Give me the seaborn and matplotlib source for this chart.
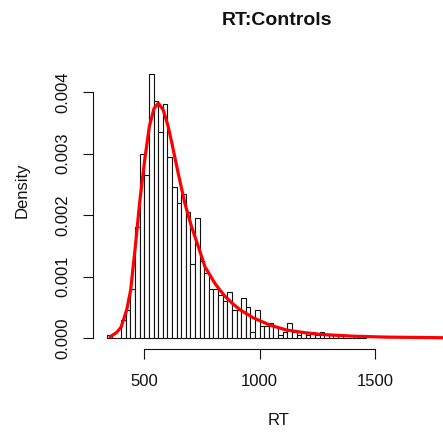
import numpy as np
import matplotlib
matplotlib.use('Agg')
import matplotlib.pyplot as plt
import seaborn as sns

# histogram bins (left edges, width 20) and densities
bin_left = [340, 360, 380, 400, 420, 440, 460, 480, 500, 520, 540, 560, 580, 600,
            620, 640, 660, 680, 700, 720, 740, 760, 780, 800, 820, 840, 860, 880,
            900, 920, 940, 960, 980, 1000, 1020, 1040, 1060, 1080, 1100, 1120, 1140,
            1160, 1180, 1200, 1220, 1240, 1260, 1280, 1300, 1320, 1340, 1360, 1380,
            1400, 1420, 1440]
densidade = [0.00005, 0, 0, 0.0003, 0.00045, 0.0008, 0.0018, 0.003, 0.00265, 0.0043,
             0.00385, 0.00335, 0.0038, 0.00295, 0.00245, 0.0022, 0.00235, 0.00205,
             0.0012, 0.00195, 0.00125, 0.00105, 0.0008, 0.0008, 0.0007, 0.0006,
             0.00075, 0.00045, 0.00045, 0.00065, 0.0005, 0.0001, 0.00045, 0.0002,
             0.0002, 0.00025, 0.0002, 0.00005, 0.0001, 0.00025, 0.0001, 0.00005,
             0.0001, 0.00005, 0.0001, 0.00005, 0.0001, 0.00005, 0.00005, 0, 0.00005,
             0, 0, 0, 0, 0.00005]
largura = 20

# fitted density curve
curva_x = [352, 380, 400, 424, 441, 461, 481, 502, 522, 542, 561, 582, 603, 619,
           647, 676, 705, 735, 763, 806, 828, 850, 880, 915, 972, 1045, 1117, 1190,
           1262, 1406, 1550, 1800]
curva_y = [0.00002, 0.00009, 0.00018, 0.00046, 0.00078, 0.00148, 0.00224, 0.0029,
           0.00344, 0.00373, 0.00382, 0.00371, 0.00345, 0.00318, 0.00268, 0.00219,
           0.00181, 0.00148, 0.00116, 0.00089, 0.00078, 0.00068, 0.00057, 0.00046,
           0.00033, 0.00021, 0.00013, 0.00009, 0.00006, 0.00003, 0.000015, 0.000005]

x_ticks = [500, 1000, 1500]
y_ticks = [0.000, 0.001, 0.002, 0.003, 0.004]

sns.set_theme(style='white')
plt.rcParams['font.family'] = ['Liberation Sans', 'DejaVu Sans']

fig = plt.figure(figsize=(4.43, 4.32), dpi=100)
ax = fig.add_axes([0.2106, 0.193, 0.7894, 0.6594])

centros = np.array(bin_left) + largura / 2
bordas = list(bin_left) + [bin_left[-1] + largura]
sns.histplot(x=centros, weights=densidade, bins=bordas, stat='count',
             color='white', edgecolor='#111111', linewidth=0.8, alpha=1, ax=ax)
sns.lineplot(x=curva_x, y=curva_y, color='red', linewidth=2.3, ax=ax)

ax.set_xlim(279, 1795)
ax.set_ylim(-0.000172, 0.00446)
ax.set_xticks(x_ticks)
ax.set_xticklabels([str(t) for t in x_ticks])
ax.set_yticks(y_ticks)
ax.set_yticklabels([f'{t:.3f}' for t in y_ticks])

for lado in ['top', 'right']:
    ax.spines[lado].set_visible(False)
ax.spines['left'].set_bounds(0, 0.004)
ax.spines['bottom'].set_bounds(500, 1500)
for lado in ['left', 'bottom']:
    ax.spines[lado].set_color('#111111')
    ax.spines[lado].set_linewidth(0.8)

ax.tick_params(axis='both', which='major', length=7.2, width=0.8, color='#111111',
               labelsize=12, labelcolor='#111111', bottom=True, left=True)
ax.tick_params(axis='x', pad=11)
ax.tick_params(axis='y', labelrotation=90, pad=9)
for lbl in ax.get_yticklabels():
    lbl.set_va('center')

ax.set_xlabel('RT', fontsize=12, color='#111111', va='center')
ax.set_ylabel('Density', fontsize=12, color='#111111', va='center')
ax.xaxis.set_label_coords(0.529, -0.2506)
ax.yaxis.set_label_coords(-0.2037, 0.557)

fig.text(276.7 / 443, 1 - 20.7 / 432, 'RT:Controls', ha='center', va='center',
         fontsize=14, fontweight='bold', color='#111111')

fig.savefig('out.png', dpi=100)
